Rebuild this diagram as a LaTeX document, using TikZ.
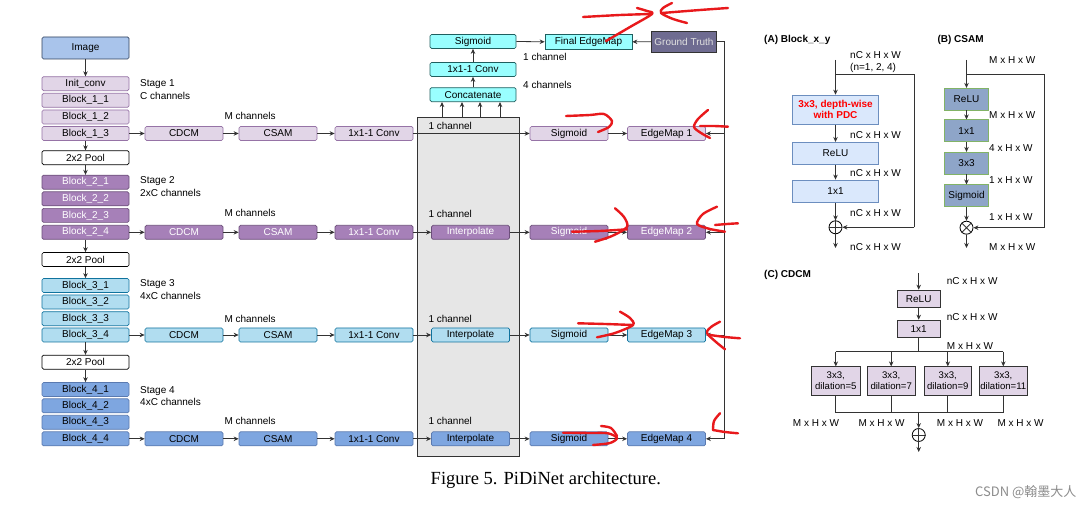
\documentclass[tikz,border=0pt]{standalone}
\usepackage{fontspec}
\setmainfont{Liberation Sans}
\newfontfamily\capfont{Liberation Serif}
\newfontfamily\cjkfont{Noto Sans CJK SC}
\usetikzlibrary{arrows.meta,calc}
\definecolor{lnc}{HTML}{333333}
\definecolor{imgf}{HTML}{A9C4EB}
\definecolor{imgd}{HTML}{2E3F5C}
\definecolor{aF}{HTML}{E1D5E7}
\definecolor{aD}{HTML}{9673A6}
\definecolor{bF}{HTML}{A680B8}
\definecolor{bD}{HTML}{6C4F7A}
\definecolor{cF}{HTML}{B1DDF0}
\definecolor{cD}{HTML}{10739E}
\definecolor{dF}{HTML}{7EA6E0}
\definecolor{dD}{HTML}{5A7AB0}
\definecolor{cyF}{HTML}{99FFFF}
\definecolor{cyD}{HTML}{1F5F5F}
\definecolor{gtF}{HTML}{6F6C91}
\definecolor{gtD}{HTML}{333333}
\definecolor{grayF}{HTML}{E6E6E6}
\definecolor{blkF}{HTML}{DAE8FC}
\definecolor{blkD}{HTML}{6C8EBF}
\definecolor{csF}{HTML}{8EA5C8}
\definecolor{csD}{HTML}{82B366}
\definecolor{scr}{HTML}{E8191C}
\definecolor{wm}{HTML}{8C8C8C}
\newcommand{\myfs}{\fontsize{10}{11}\selectfont}
\begin{document}
\begin{tikzpicture}[x=1pt,y=-1pt,
  box/.style={draw, rounded corners=1.5pt, inner sep=0pt, minimum height=14pt, font=\myfs, line width=0.7pt},
  lbox/.style={box, minimum width=87pt},
  rbox/.style={box, minimum width=78pt},
  tbox/.style={box, minimum width=86pt, fill=cyF, draw=cyD},
  sA/.style={fill=aF, draw=aD},
  sB/.style={fill=bF, draw=bD, text=white},
  sC/.style={fill=cF, draw=cD},
  sD/.style={fill=dF, draw=dD},
  pool/.style={fill=white, draw=black},
  ln/.style={draw=lnc, line width=0.8pt},
  arr/.style={ln, -{Stealth[length=5pt,width=4.5pt]}},
  lab/.style={font=\myfs, anchor=west, inner sep=0pt},
  ttl/.style={font=\myfs\bfseries, anchor=west, inner sep=0pt},
  scrib/.style={draw=scr, line width=2.4pt, line cap=round, line join=round},
  pm/.style={circle, draw=black, line width=0.8pt, minimum size=13pt, inner sep=0pt},
  ablk/.style={draw=blkD, fill=blkF, line width=0.7pt, inner sep=0pt, minimum width=86.6pt, font=\myfs},
  bblk/.style={draw=csD, fill=csF, line width=0.9pt, inner sep=0pt, minimum width=44pt, minimum height=21.7pt, font=\myfs},
  cblk/.style={draw=lnc, fill=aF, line width=0.7pt, inner sep=0pt, font=\fontsize{9.6}{10.5}\selectfont, align=center}
]
\useasboundingbox (0,0) rectangle (1092,510);
\fill[white] (0,0) rectangle (1092,510);

% gray box
\node[draw=lnc, fill=grayF, line width=0.8pt, minimum width=102pt, minimum height=339pt, inner sep=0pt] (gb) at (468,286.5) {};

% left column
\node[lbox, fill=imgf, draw=imgd, minimum height=22pt] (img) at (85.5,48) {Image};
\node[lbox,sA] (ic) at (85.5,83.7) {Init\_conv};
\node[lbox,sA] (b11) at (85.5,100.3) {Block\_1\_1};
\node[lbox,sA] (b12) at (85.5,117) {Block\_1\_2};
\node[lbox,sA] (b13) at (85.5,133.5) {Block\_1\_3};
\node[lbox,pool] (pl1) at (85.5,157.7) {2x2 Pool};
\node[lbox,sB] (b21) at (85.5,182.2) {Block\_2\_1};
\node[lbox,sB] (b22) at (85.5,198.8) {Block\_2\_2};
\node[lbox,sB] (b23) at (85.5,215.4) {Block\_2\_3};
\node[lbox,sB] (b24) at (85.5,232.3) {Block\_2\_4};
\node[lbox,pool] (pl2) at (85.5,259.5) {2x2 Pool};
\node[lbox,sC] (b31) at (85.5,285.5) {Block\_3\_1};
\node[lbox,sC] (b32) at (85.5,302) {Block\_3\_2};
\node[lbox,sC] (b33) at (85.5,318.7) {Block\_3\_3};
\node[lbox,sC] (b34) at (85.5,335) {Block\_3\_4};
\node[lbox,pool] (pl3) at (85.5,362.2) {2x2 Pool};
\node[lbox,sD] (b41) at (85.5,389.5) {Block\_4\_1};
\node[lbox,sD] (b42) at (85.5,405.8) {Block\_4\_2};
\node[lbox,sD] (b43) at (85.5,422.3) {Block\_4\_3};
\node[lbox,sD] (b44) at (85.5,438.8) {Block\_4\_4};

\draw[arr] (img.south) -- (ic.north);
\draw[arr] (b13.south) -- (pl1.north);
\draw[arr] (pl1.south) -- (b21.north);
\draw[arr] (b24.south) -- (pl2.north);
\draw[arr] (pl2.south) -- (b31.north);
\draw[arr] (b34.south) -- (pl3.north);
\draw[arr] (pl3.south) -- (b41.north);

% stage labels
\node[lab] (st1a) at (140,84.3) {Stage 1};
\node[lab] (st1b) at (140,95.7) {C channels};
\node[lab] (st2a) at (140,180.7) {Stage 2};
\node[lab] (st2b) at (140,192.7) {2xC channels};
\node[lab] (st3a) at (140,284) {Stage 3};
\node[lab] (st3b) at (140,295.7) {4xC channels};
\node[lab] (st4a) at (140,390.7) {Stage 4};
\node[lab] (st4b) at (140,401.5) {4xC channels};

% M channels / 1 channel labels
\node[lab] (m1) at (224.3,116) {M channels};
\node[lab] (m2) at (224.3,213.3) {M channels};
\node[lab] (m3) at (224.3,319.3) {M channels};
\node[lab] (m4) at (224.3,420.7) {M channels};
\node[lab] (o1) at (428.3,125.7) {1 channel};
\node[lab] (o2) at (428.3,214) {1 channel};
\node[lab] (o3) at (428.3,319.3) {1 channel};
\node[lab] (o4) at (428.3,420.7) {1 channel};

% row 1
\node[rbox,sA] (cdcm1) at (184,133.5) {CDCM};
\node[rbox,sA] (csam1) at (278,133.5) {CSAM};
\node[rbox,sA] (conv1) at (374,133.5) {1x1-1 Conv};
\node[rbox,sA] (sig1) at (569,133.5) {Sigmoid};
\node[rbox,sA] (em1) at (666.5,133.5) {EdgeMap 1};
\draw[arr] (b13.east) -- (cdcm1.west);
\draw[arr] (cdcm1.east) -- (csam1.west);
\draw[arr] (csam1.east) -- (conv1.west);
\draw[arr] (conv1.east) -- (sig1.west);
\draw[arr] (sig1.east) -- (em1.west);

% row 2
\node[rbox,sB] (cdcm2) at (184,232.3) {CDCM};
\node[rbox,sB] (csam2) at (278,232.3) {CSAM};
\node[rbox,sB] (conv2) at (374,232.3) {1x1-1 Conv};
\node[rbox,sB] (int2) at (470.5,232.3) {Interpolate};
\node[rbox,sB] (sig2) at (569,232.3) {Sigmoid};
\node[rbox,sB] (em2) at (666.5,232.3) {EdgeMap 2};
\draw[arr] (b24.east) -- (cdcm2.west);
\draw[arr] (cdcm2.east) -- (csam2.west);
\draw[arr] (csam2.east) -- (conv2.west);
\draw[arr] (conv2.east) -- (int2.west);
\draw[arr] (int2.east) -- (sig2.west);
\draw[arr] (sig2.east) -- (em2.west);

% row 3
\node[rbox,sC] (cdcm3) at (184,335) {CDCM};
\node[rbox,sC] (csam3) at (278,335) {CSAM};
\node[rbox,sC] (conv3) at (374,335) {1x1-1 Conv};
\node[rbox,sC] (int3) at (470.5,335) {Interpolate};
\node[rbox,sC] (sig3) at (569,335) {Sigmoid};
\node[rbox,sC] (em3) at (666.5,335) {EdgeMap 3};
\draw[arr] (b34.east) -- (cdcm3.west);
\draw[arr] (cdcm3.east) -- (csam3.west);
\draw[arr] (csam3.east) -- (conv3.west);
\draw[arr] (conv3.east) -- (int3.west);
\draw[arr] (int3.east) -- (sig3.west);
\draw[arr] (sig3.east) -- (em3.west);

% row 4
\node[rbox,sD] (cdcm4) at (184,438.8) {CDCM};
\node[rbox,sD] (csam4) at (278,438.8) {CSAM};
\node[rbox,sD] (conv4) at (374,438.8) {1x1-1 Conv};
\node[rbox,sD] (int4) at (470.5,438.8) {Interpolate};
\node[rbox,sD] (sig4) at (569,438.8) {Sigmoid};
\node[rbox,sD] (em4) at (666.5,438.8) {EdgeMap 4};
\draw[arr] (b44.east) -- (cdcm4.west);
\draw[arr] (cdcm4.east) -- (csam4.west);
\draw[arr] (csam4.east) -- (conv4.west);
\draw[arr] (conv4.east) -- (int4.west);
\draw[arr] (int4.east) -- (sig4.west);
\draw[arr] (sig4.east) -- (em4.west);

% top fusion
\node[tbox] (tsig) at (473,41.5) {Sigmoid};
\node[tbox] (tconv) at (473,69.5) {1x1-1 Conv};
\node[tbox] (cat) at (473,94.7) {Concatenate};
\node[box, fill=cyF, draw=cyD, minimum width=87pt, minimum height=15pt, rounded corners=0pt] (fem) at (588.5,41.8) {Final EdgeMap};
\node[box, fill=gtF, draw=gtD, text=white!88!black, minimum width=65pt, minimum height=21pt, rounded corners=0pt] (gt) at (684,41.7) {Ground Truth};
\node[lab] (t1c) at (523,56.7) {1 channel};
\node[lab] (t4c) at (523,84.7) {4 channels};
\foreach \dx in {-26,-6,12,32} \draw[arr] ([xshift=\dx pt]gb.north) -- ([xshift=\dx pt]gb.north |- cat.south);
\draw[arr] (cat.north) -- (tconv.south);
\draw[arr] (tconv.north) -- (tsig.south);
\draw[arr] (tsig.east) -- (fem.west);
\draw[arr] (gt.west) -- (fem.east);
\draw[ln] (gt.east) -- ++(7.5,0) coordinate (gtc) -- (gtc |- em4.east);
\draw[arr] (gtc |- em1.east) -- (em1.east);
\draw[arr] (gtc |- em2.east) -- (em2.east);
\draw[arr] (gtc |- em3.east) -- (em3.east);
\draw[arr] (gtc |- em4.east) -- (em4.east);

% (A) Block_x_y
\node[ttl] (ta) at (764,40) {(A) Block\_x\_y};
\coordinate (ain) at (835.5,60);
\coordinate (abr) at (835.5,74.3);
\coordinate (arr1) at (914.3,74.3);
\node[ablk, minimum height=29.3pt, text=red, font=\myfs\bfseries, align=center] (a1) at (835.5,109.7) {3x3, depth-wise\\with PDC};
\node[ablk, minimum height=22pt] (a2) at (835.5,153.3) {ReLU};
\node[ablk, minimum height=22.7pt] (a3) at (835.5,191.3) {1x1};
\node[pm] (ap) at (835.5,227.3) {};
\coordinate (aout) at (835.5,248);
\draw[ln] (ap.north) -- (ap.south) (ap.west) -- (ap.east);
\draw[arr] (ain) -- (a1.north);
\draw[ln] (abr) -- (arr1) -- (arr1 |- ap);
\draw[arr] (arr1 |- ap) -- (ap.east);
\draw[arr] (a1.south) -- (a2.north);
\draw[arr] (a2.south) -- (a3.north);
\draw[arr] (a3.south) -- (ap.north);
\draw[arr] (ap.south) -- (aout);
\node[lab] (la1) at (850,55) {nC x H x W};
\node[lab] (la2) at (850,67.7) {(n=1, 2, 4)};
\node[lab] (la3) at (850,135) {nC x H x W};
\node[lab] (la4) at (850,173.3) {nC x H x W};
\node[lab] (la5) at (850,213.3) {nC x H x W};
\node[lab] (la6) at (850,246.7) {nC x H x W};

% (B) CSAM
\node[ttl] (tb) at (937.3,40) {(B) CSAM};
\coordinate (bin) at (966.5,60);
\coordinate (bbr) at (966.5,74.3);
\coordinate (brt) at (1044,74.3);
\node[bblk] (c1) at (966.5,99.2) {ReLU};
\node[bblk] (c2) at (966.5,130.8) {1x1};
\node[bblk] (c3) at (966.5,163.2) {3x3};
\node[bblk] (c4) at (966.5,195.8) {Sigmoid};
\node[pm] (bp) at (966.5,227.7) {};
\coordinate (bout) at (966.5,248);
\draw[ln] (bp.north west) -- (bp.south east) (bp.north east) -- (bp.south west);
\draw[arr] (bin) -- (c1.north);
\draw[ln] (bbr) -- (brt) -- (brt |- bp);
\draw[arr] (brt |- bp) -- (bp.east);
\draw[arr] (c1.south) -- (c2.north);
\draw[arr] (c2.south) -- (c3.north);
\draw[arr] (c3.south) -- (c4.north);
\draw[arr] (c4.south) -- (bp.north);
\draw[arr] (bp.south) -- (bout);
\node[lab] (lb1) at (989,60) {M x H x W};
\node[lab] (lb2) at (989,115) {M x H x W};
\node[lab] (lb3) at (989,147.7) {4 x H x W};
\node[lab] (lb4) at (989,180) {1 x H x W};
\node[lab] (lb5) at (989,217.3) {1 x H x W};
\node[lab] (lb6) at (989,246.7) {M x H x W};

% (C) CDCM
\node[ttl] (tc) at (764,275) {(C) CDCM};
\coordinate (cin) at (918.7,273.3);
\node[cblk, minimum width=42.7pt, minimum height=17.3pt, font=\myfs] (d1) at (918.7,298.7) {ReLU};
\node[cblk, minimum width=42.7pt, minimum height=17.3pt, font=\myfs] (d2) at (918.7,328.7) {1x1};
\coordinate (dsp) at (918.7,351.7);
\node[cblk, minimum width=48.3pt, minimum height=28.3pt] (e1) at (835.8,380.9) {3x3,\\dilation=5};
\node[cblk, minimum width=47.7pt, minimum height=28.3pt] (e2) at (891.2,380.9) {3x3,\\dilation=7};
\node[cblk, minimum width=47.7pt, minimum height=28.3pt] (e3) at (947.8,380.9) {3x3,\\dilation=9};
\node[cblk, minimum width=48pt, minimum height=28.3pt] (e4) at (1003.3,380.9) {3x3,\\dilation=11};
\coordinate (djn) at (918.7,412.3);
\node[pm] (cp) at (918.7,435) {};
\coordinate (cout) at (918.7,452);
\draw[ln] (cp.north) -- (cp.south) (cp.west) -- (cp.east);
\draw[arr] (cin) -- (d1.north);
\draw[arr] (d1.south) -- (d2.north);
\draw[ln, line width=1.3pt] (d2.south) -- (dsp);
\draw[ln] (dsp -| e1.north) -- (dsp -| e4.north);
\draw[arr] (dsp -| e1.north) -- (e1.north);
\draw[arr] (dsp -| e2.north) -- (e2.north);
\draw[arr] (dsp -| e3.north) -- (e3.north);
\draw[arr] (dsp -| e4.north) -- (e4.north);
\draw[ln] (e1.south) -- (e1.south |- djn) -- (e4.south |- djn) -- (e4.south);
\draw[ln] (e2.south) -- (e2.south |- djn);
\draw[ln] (e3.south) -- (e3.south |- djn);
\draw[arr, line width=1.3pt] (djn) -- (cp.north);
\draw[arr] (cp.south) -- (cout);
\node[lab] (lc1) at (946.7,280.7) {nC x H x W};
\node[lab] (lc2) at (946.7,316.7) {nC x H x W};
\node[lab] (lc3) at (946.7,345.7) {M x H x W};
\node[lab] (lc4) at (792.7,423.3) {M x H x W};
\node[lab] (lc5) at (858.3,423.3) {M x H x W};
\node[lab] (lc6) at (936.7,423.3) {M x H x W};
\node[lab] (lc7) at (997.3,423.3) {M x H x W};

% caption and watermark
\node[font=\capfont\fontsize{18.5}{20}\selectfont, inner sep=0pt] (cap) at (545.8,480) {Figure 5. PiDiNet architecture.};
\node[font=\cjkfont\fontsize{13}{14}\selectfont, text=wm, anchor=west, inner sep=0pt] (wmk) at (975,492) {CSDN @翰墨大人};

% red hand-drawn marks
\draw[scrib] plot[smooth] coordinates {(583,17) (620,15) (651,14)};
\draw[scrib] plot[smooth] coordinates {(637,8) (647,11) (652,14) (630,27) (606,41)};
\draw[scrib] plot[smooth] coordinates {(728,8) (700,10) (662,13)};
\draw[scrib] plot[smooth] coordinates {(672,3) (663,8) (661,13) (673,19) (687,23)};

\draw[scrib] plot[smooth] coordinates {(566,116) (590,115) (604,114) (612,121) (609,127) (598,132)};
\draw[scrib] plot[smooth] coordinates {(728,126.7) (714,126) (700,126)};
\draw[scrib] plot[smooth] coordinates {(708,110) (698,119) (694,127) (701,133) (710,138)};

\draw[scrib] plot[smooth] coordinates {(572,231.7) (600,231) (627,229.3)};
\draw[scrib] plot[smooth] coordinates {(615,208.3) (624,217) (627,227) (612,236) (595,241.7)};
\draw[scrib] plot[smooth] coordinates {(738,223.3) (727,224) (715,225)};
\draw[scrib] plot[smooth] coordinates {(717,206.7) (703,214) (697,224) (710,229) (725,231.7)};

\draw[scrib] plot[smooth] coordinates {(578,323.3) (605,324) (633,325)};
\draw[scrib] plot[smooth] coordinates {(620,311.7) (630,318) (633,325) (615,333) (597,337.3)};
\draw[scrib] plot[smooth] coordinates {(740,338.3) (725,337) (710,335)};
\draw[scrib] plot[smooth] coordinates {(720,321.7) (711,327) (707,333) (716,342) (725,349.3)};

\draw[scrib] plot[smooth] coordinates {(563,432.7) (590,433) (608,433.3) (617,438) (610,443) (593,445)};
\draw[scrib] plot[smooth] coordinates {(601,426) (611,428) (617,436)};
\draw[scrib] plot[smooth] coordinates {(738,433.3) (725,432) (713,430)};
\draw[scrib] plot[smooth] coordinates {(720,413.3) (714,421) (713,430)};
\end{tikzpicture}
\end{document}
